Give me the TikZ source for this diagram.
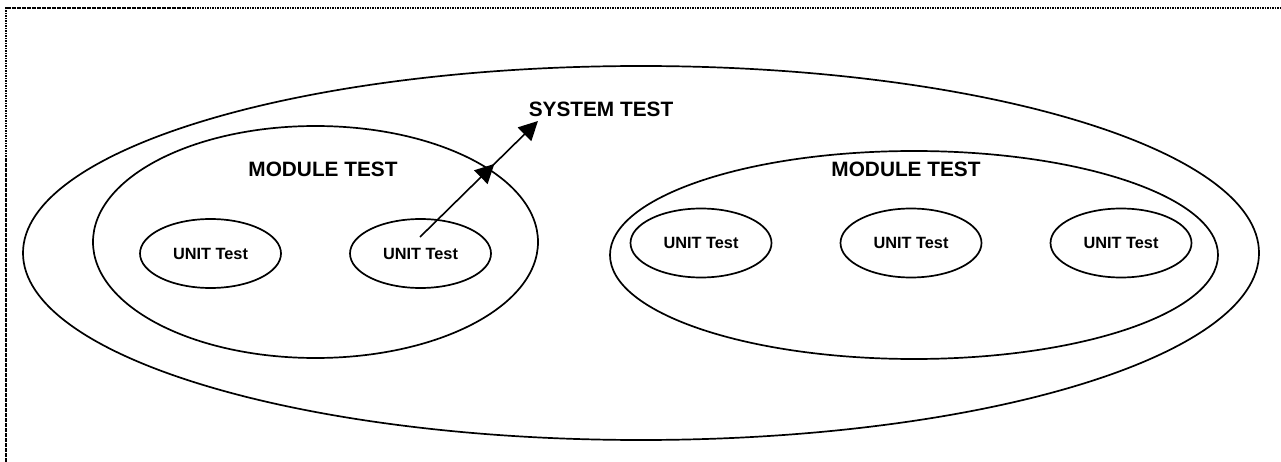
\documentclass[tikz,border=0pt]{standalone}
\usepackage{fontspec}
\setmainfont{Liberation Sans}
\usetikzlibrary{shapes.geometric,arrows.meta,decorations.markings}
\begin{document}
\begin{tikzpicture}[x=1pt,y=-1pt,
  oval/.style={draw,ellipse,line width=1.7pt,inner sep=0pt},
  unitbox/.style={oval,minimum width=141pt,minimum height=69pt,font=\bfseries\fontsize{16.3}{19}\selectfont},
  biglabel/.style={font=\bfseries\fontsize{20.8}{24}\selectfont,inner sep=0pt},
  frameline/.style={line width=1.5pt,dash pattern=on 1.6pt off 0.9pt},
  flow/.style={line width=1.6pt,-{Triangle[length=19pt,width=19pt]},
    postaction={decorate},
    decoration={markings,mark=at position 0.63 with {\arrow{Triangle[length=19pt,width=19pt]}}}}]
\useasboundingbox (0,0) rectangle (1281,462);
% frame (top and left edges only)
\draw[frameline] (6,462) -- (6,8) -- (1281,8);
% system
\node[oval,minimum width=1236pt,minimum height=374pt] (sys) at (641,253) {};
\node[biglabel] (systxt) at (601,109) {SYSTEM TEST};
% left module
\node[oval,minimum width=445pt,minimum height=232pt] (modL) at (315.5,242) {};
\node[biglabel] (modLtxt) at (323,169) {MODULE TEST};
\node[unitbox] (u1) at (210.5,253.5) {UNIT Test};
\node[unitbox] (u2) at (420.5,253.5) {UNIT Test};
% right module
\node[oval,minimum width=608pt,minimum height=208pt] (modR) at (914,255) {};
\node[biglabel] (modRtxt) at (906,169) {MODULE TEST};
\node[unitbox] (u3) at (701,243) {UNIT Test};
\node[unitbox] (u4) at (911,243) {UNIT Test};
\node[unitbox] (u5) at (1121,243) {UNIT Test};
% arrow
\coordinate (astart) at (420,237);
\coordinate (aend) at (538,121);
\draw[flow] (astart) -- (aend);
\end{tikzpicture}
\end{document}
